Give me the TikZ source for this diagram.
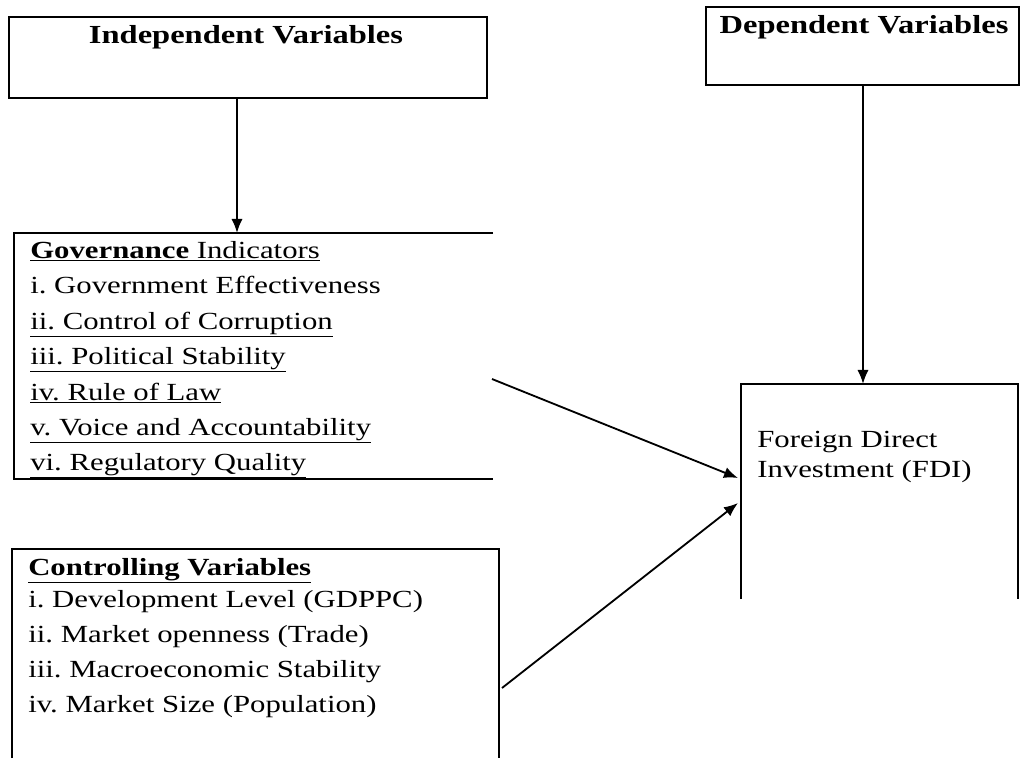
\documentclass[tikz,border=0pt]{standalone}
\usepackage{fontspec}
\setmainfont{Liberation Serif}[FakeStretch=1.25]
\usetikzlibrary{arrows.meta,positioning}
\tikzset{
  frame/.style={line width=1.4pt},
  varbox/.style={draw,line width=1.4pt,rectangle,inner sep=0pt,anchor=north west},
  link/.style={line width=1.3pt,-{Latex[length=10pt,width=8pt]}},
  headtext/.style={anchor=base,inner sep=0pt,font=\fontsize{18.5}{22}\selectfont\bfseries},
  itemtext/.style={anchor=base west,inner sep=0pt,font=\fontsize{17.5}{21}\selectfont\frenchspacing},
}
\begin{document}
\begin{tikzpicture}[x=0.025cm,y=-0.025cm]
  \useasboundingbox (0,0) rectangle (1020,758);
  % top boxes
  \node[varbox,minimum width=11.95cm,minimum height=2.025cm] (indep) at (8,16) {};
  \node[headtext] (indeptitle) at (246,43) {Independent Variables};
  \node[varbox,minimum width=7.825cm,minimum height=1.95cm] (dep) at (705,6) {};
  \node[headtext] (deptitle) at (864,33) {Dependent Variables};
  % open boxes
  \draw[frame] (493,233) -- (14,233) -- (14,479) -- (493,479);
  \draw[frame] (12,758) -- (12,549) -- (499,549) -- (499,758);
  \draw[frame] (741,599) -- (741,384) -- (1018,384) -- (1018,599);
  % governance
  \node[itemtext] (gov) at (30,258) {\underline{\textbf{Governance} Indicators}};
  \node[itemtext] (gov1) at (30,293) {i. Government Effectiveness};
  \node[itemtext] (gov2) at (30,329) {\underline{ii. Control of Corruption}};
  \node[itemtext] (gov3) at (30,364) {\underline{iii. Political Stability}};
  \node[itemtext] (gov4) at (30,400) {\underline{iv. Rule of Law}};
  \node[itemtext] (gov5) at (30,435) {\underline{v. Voice and Accountability}};
  \node[itemtext] (gov6) at (30,470) {\underline{vi. Regulatory Quality}};
  % controlling
  \node[itemtext] (ctrl) at (28,575) {\underline{\textbf{Controlling Variables}}};
  \node[itemtext] (ctrl1) at (28,607) {i. Development Level (GDPPC)};
  \node[itemtext] (ctrl2) at (28,642) {ii. Market openness (Trade)};
  \node[itemtext] (ctrl3) at (28,677) {iii. Macroeconomic Stability};
  \node[itemtext] (ctrl4) at (28,712) {iv. Market Size (Population)};
  % fdi
  \node[itemtext] (fdi1) at (757,447) {Foreign Direct};
  \node[itemtext] (fdi2) at (757,477) {Investment (FDI)};
  % connector ends
  \coordinate (govtop) at (237,233);
  \coordinate (fditop) at (863,384);
  \coordinate (govout) at (492,379);
  \coordinate (ctrlout) at (502,688);
  \coordinate (fdiin1) at (738,478);
  \coordinate (fdiin2) at (738,503);
  \draw[link] (indep.south -| govtop) -- (govtop);
  \draw[link] (dep.south -| fditop) -- (fditop);
  \draw[link] (govout) -- (fdiin1);
  \draw[link] (ctrlout) -- (fdiin2);
\end{tikzpicture}
\end{document}
